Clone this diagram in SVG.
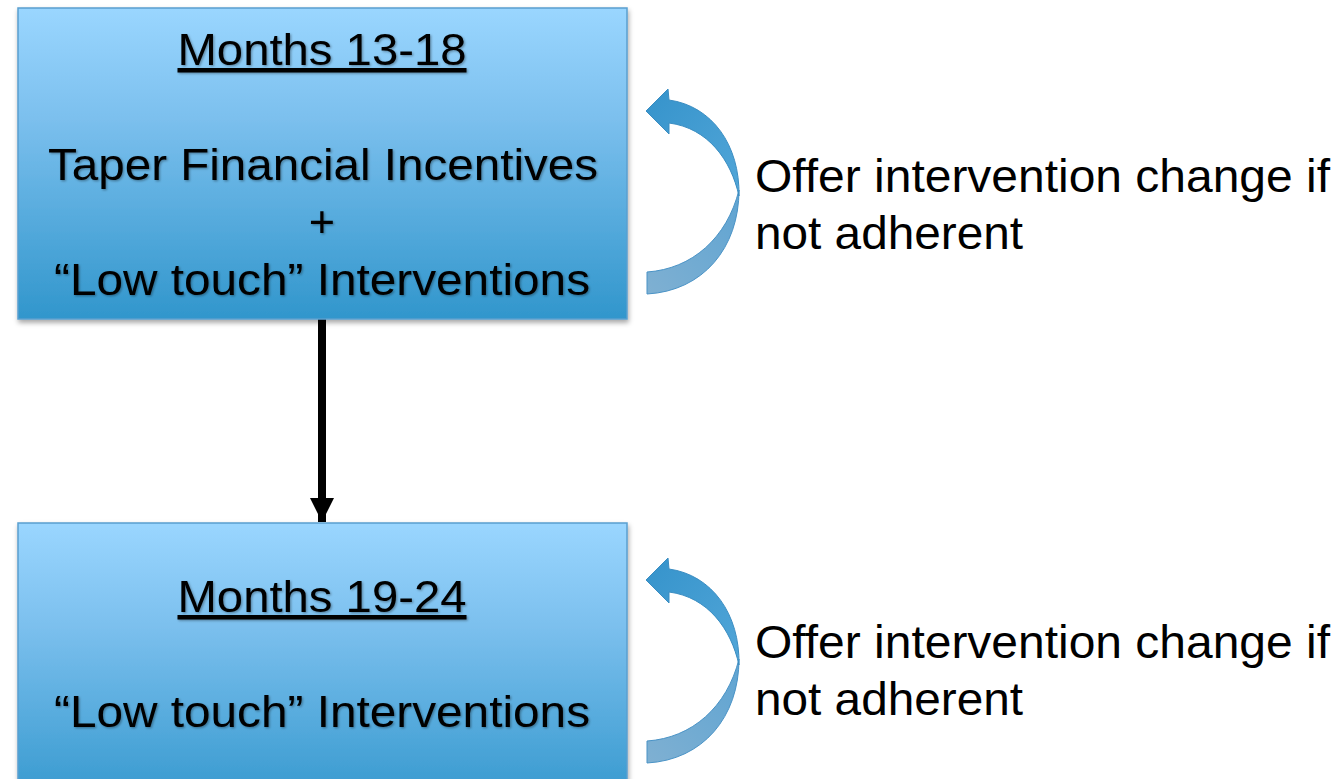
<svg xmlns="http://www.w3.org/2000/svg" width="1341" height="779" viewBox="0 0 1341 779">
  <defs>
    <linearGradient id="boxFill" x1="0" y1="0" x2="0" y2="1">
      <stop offset="0" stop-color="#9AD6FF"/>
      <stop offset="0.35" stop-color="#7CC0EE"/>
      <stop offset="1" stop-color="#3196CC"/>
    </linearGradient>
    <linearGradient id="frontFace" x1="0" y1="0" x2="1" y2="1">
      <stop offset="0" stop-color="#3593CB"/>
      <stop offset="1" stop-color="#52A6D8"/>
    </linearGradient>
    <linearGradient id="backFace" x1="1" y1="0" x2="0" y2="1">
      <stop offset="0" stop-color="#5FA4D2"/>
      <stop offset="1" stop-color="#7FB0D2"/>
    </linearGradient>
    <filter id="boxShadow" x="-5%" y="-5%" width="110%" height="115%">
      <feDropShadow dx="1" dy="3" stdDeviation="2.5" flood-color="#000" flood-opacity="0.35"/>
    </filter>
    <filter id="textShadow" x="-5%" y="-20%" width="110%" height="140%">
      <feDropShadow dx="1.2" dy="1.2" stdDeviation="0.8" flood-color="#000" flood-opacity="0.35"/>
    </filter>
    <marker id="arrowHead" markerUnits="userSpaceOnUse" markerWidth="26" markerHeight="24" refX="24" refY="12" orient="auto">
      <path d="M0,0 L24,12 L0,24 Z" fill="#000"/>
    </marker>
    <!-- curved "loop back" arrow with a twisted ribbon body -->
    <g id="loopArrow">
      <path d="M739,190 C739,248 703,291 647,294 L647,272 C692,269 727,238 739,190 Z" fill="url(#backFace)" stroke="#4A93C6" stroke-width="1"/>
      <path d="M646,111 L668,89 L669,100 C712,106 740,145 739,196 C731,160 708,128 669,123 L669,134 Z" fill="url(#frontFace)" stroke="#3A8DC2" stroke-width="1"/>
    </g>
  </defs>
  <style>
    .box { fill: url(#boxFill); stroke: #5A9FCF; stroke-width: 1.5; }
    .boxText { font-family: "Liberation Sans", Arial, sans-serif; font-size: 45px; fill: #000; text-anchor: middle; }
    .title { text-decoration: underline; }
    .note { font-family: "Liberation Sans", Arial, sans-serif; font-size: 47px; fill: #000; }
    .flow { stroke: #000; stroke-width: 8; fill: none; }
  </style>
  <rect width="1341" height="779" fill="#fff"/>

  <g id="connectors">
    <line class="flow" x1="322" y1="319" x2="322" y2="522" marker-end="url(#arrowHead)"/>
  </g>

  <g id="phase-13-18">
    <rect class="box" x="18" y="8" width="609" height="311" filter="url(#boxShadow)"/>
    <g filter="url(#textShadow)">
      <text class="boxText title" x="322" y="65" textLength="289" lengthAdjust="spacingAndGlyphs">Months 13-18</text>
      <text class="boxText" x="323" y="180" textLength="550" lengthAdjust="spacingAndGlyphs">Taper Financial Incentives</text>
      <text class="boxText" x="322" y="237">+</text>
      <text class="boxText" x="322" y="295" textLength="536" lengthAdjust="spacingAndGlyphs">“Low touch” Interventions</text>
    </g>
  </g>

  <g id="phase-19-24">
    <rect class="box" x="18" y="523" width="609" height="290" filter="url(#boxShadow)"/>
    <g filter="url(#textShadow)">
      <text class="boxText title" x="322" y="612" textLength="289" lengthAdjust="spacingAndGlyphs">Months 19-24</text>
      <text class="boxText" x="322" y="727" textLength="536" lengthAdjust="spacingAndGlyphs">“Low touch” Interventions</text>
    </g>
  </g>

  <g id="loop-13-18">
    <use href="#loopArrow"/>
    <text class="note" x="755" y="192" textLength="575" lengthAdjust="spacingAndGlyphs">Offer intervention change if</text>
    <text class="note" x="755" y="249" textLength="268" lengthAdjust="spacingAndGlyphs">not adherent</text>
  </g>

  <g id="loop-19-24">
    <use href="#loopArrow" transform="translate(0,469)"/>
    <text class="note" x="755" y="658" textLength="575" lengthAdjust="spacingAndGlyphs">Offer intervention change if</text>
    <text class="note" x="755" y="715" textLength="268" lengthAdjust="spacingAndGlyphs">not adherent</text>
  </g>
</svg>
